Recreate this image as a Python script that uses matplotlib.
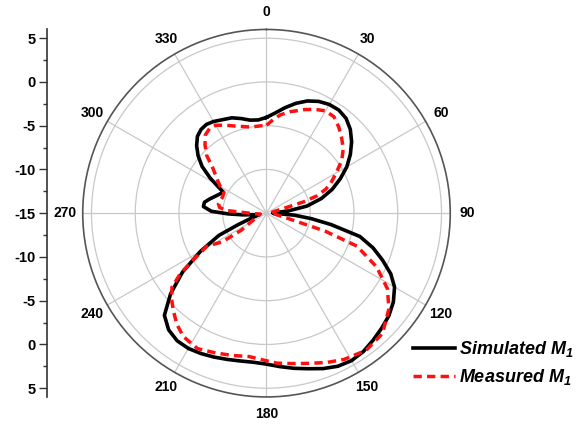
import numpy as np
import matplotlib
matplotlib.use("Agg")
import matplotlib.pyplot as plt

plt.rcParams['font.family'] = ['Liberation Sans', 'DejaVu Sans']
plt.rcParams['mathtext.fontset'] = 'custom'
plt.rcParams['mathtext.it'] = 'Liberation Sans:bold:italic'
plt.rcParams['mathtext.rm'] = 'Liberation Sans:bold:italic'

# ---- data (angle in deg, gain in dB) ----
sim_angle = [0, 5, 10, 15, 20, 25, 30, 35, 40, 45, 50, 55, 60, 65, 70, 75, 80,
             84, 88, 91, 94, 97, 100, 104, 108, 112, 116, 120, 125, 130, 135,
             140, 145, 150, 155, 160, 165, 170, 175, 180, 185, 190, 195, 200,
             205, 210, 215, 220, 225, 230, 235, 240, 245, 248, 252, 257, 262,
             266, 269, 272, 276, 280, 284, 288, 292, 296, 299, 302, 306, 310,
             314, 318, 322, 326, 330, 335, 340, 345, 350, 355]
sim_gain = [-4.05, -3.5, -2.75, -2.0, -1.35, -0.9, -0.65, -0.6, -0.85, -1.45,
            -2.3, -3.3, -4.4, -5.7, -7.0, -8.5, -10.3, -12.5, -14.3, -14.2,
            -11.8, -9.8, -7.5, -4.0, -2.2, -0.7, 0.8, 1.9, 2.7, 3.25, 3.6,
            3.95, 4.3, 4.45, 4.3, 3.9, 3.4, 3.0, 2.6, 2.25, 2.1, 2.15, 2.3,
            2.5, 2.7, 2.85, 2.8, 2.4, 1.5, -0.7, -3.3, -6.3, -9.0, -11.5,
            -13.2, -14.0, -13.8, -12.3, -10.6, -8.7, -7.75, -7.8, -8.3, -8.8,
            -9.2, -9.5, -8.6, -7.4, -5.9, -4.8, -3.9, -3.2, -2.85, -2.75, -2.9,
            -3.2, -3.4, -3.8, -4.2, -4.3]

meas_angle = [0, 4, 8, 13, 20, 25, 30, 35, 40, 45, 50, 55, 60, 65, 68, 71, 73,
              74, 78, 88, 97, 103, 106, 107, 110, 116, 122, 128, 136, 144, 152,
              158, 164, 170, 176, 181, 187, 193, 200, 207, 214, 219, 224, 228,
              232, 235, 237.5, 241, 237, 236, 248, 262, 268, 272, 274, 277,
              281, 285, 290, 296, 300, 303, 306, 310, 314, 318, 322, 326, 330,
              335, 340, 345, 350, 355]
meas_gain = [-4.95, -4.3, -3.65, -3.1, -2.4, -1.9, -1.5, -1.55, -2.15, -2.85,
             -3.55, -4.5, -5.8, -6.9, -7.7, -8.9, -10.5, -12.5, -14.2, -14.6,
             -14.0, -12.8, -10.5, -8.0, -4.0, -1.0, 1.3, 2.75, 4.1, 4.37,
             3.92, 3.4, 2.85, 2.45, 2.18, 1.8, 1.5, 1.7, 2.0, 2.37, 2.0, 1.3,
             0.35, -0.4, -1.3, -3.0, -5.1, -7.2, -9.0, -11.5, -13.8, -14.3,
             -13.5, -12.2, -10.3, -9.6, -9.4, -9.5, -9.65, -9.6, -8.9, -8.4,
             -7.9, -7.0, -5.5, -4.5, -3.65, -3.35, -3.4, -3.9, -4.4, -4.75,
             -5.0, -5.0]

angle_ticks = [0, 30, 60, 90, 120, 150, 180, 210, 240, 270, 300, 330]
ring_values = [-10, -5, 0, 5]
side_pos = [-20, -15, -10, -5, 0, 5, 10, 15, 20]
side_labels = ['5', '0', '-5', '-10', '-15', '-10', '-5', '0', '5']

r_min, r_max = -15, 6

fig = plt.figure(figsize=(5.83, 4.25), dpi=100)

ax = fig.add_axes([0.1419, 0.066, 0.6304, 0.8647], projection='polar')
ax.set_theta_zero_location('N')
ax.set_theta_direction(-1)
ax.set_rlim(r_min, r_max)

def closed(a, v):
    return np.radians(list(a) + [a[0]]), list(v) + [v[0]]

t, g = closed(sim_angle, sim_gain)
ax.plot(t, g, color='black', lw=2.6, label='Simulated $M_1$', zorder=3,
        solid_joinstyle='round')
t, g = closed(meas_angle, meas_gain)
ax.plot(t, g, color='#ff1010', lw=2.5, ls=(0, (2.4, 1.5)),
        label='Measured $M_1$', zorder=4)

ax.set_yticks(ring_values)
ax.set_yticklabels([])
ax.set_xticks(np.radians(angle_ticks))
ax.set_xticklabels([])
ax.set_xticks(np.radians(np.arange(15, 360, 30)), minor=True)
ax.grid(True, color='#c8c8c8', lw=0.9)
ax.tick_params(axis='x', which='major', direction='in', length=5,
               width=1, color='#444444')
ax.tick_params(axis='x', which='minor', direction='in', length=3,
               width=1, color='#444444')
ax.spines['polar'].set_color('#555555')
ax.spines['polar'].set_linewidth(1.2)

for a in angle_ticks:
    ax.text(np.radians(a), 8.0, str(a), ha='center', va='center',
            fontsize=10, fontweight='bold', clip_on=False)

# left-hand scale, as Origin draws it
ax2 = fig.add_axes([0.0798, 0.066, 0.01, 0.8647])
ax2.set_ylim(-21, 21)
ax2.set_xticks([])
ax2.patch.set_visible(False)
for s in ['top', 'right', 'bottom']:
    ax2.spines[s].set_visible(False)
ax2.spines['left'].set_color('#333333')
ax2.spines['left'].set_linewidth(1.2)
ax2.set_yticks(side_pos)
ax2.set_yticklabels(side_labels, fontsize=10.5, fontweight='bold')
ax2.set_yticks(np.arange(-17.5, 20, 5), minor=True)
ax2.tick_params(axis='y', which='major', length=6, width=1, pad=2,
                color='#333333')
ax2.tick_params(axis='y', which='minor', length=3, width=1,
                color='#333333')

fig.legend(loc='center left', bbox_to_anchor=(0.681, 0.146), frameon=False,
           prop={'size': 13, 'weight': 'bold', 'style': 'italic'},
           handlelength=2.3, handletextpad=0.25, labelspacing=0.45)

fig.savefig('out.png', dpi=100)
